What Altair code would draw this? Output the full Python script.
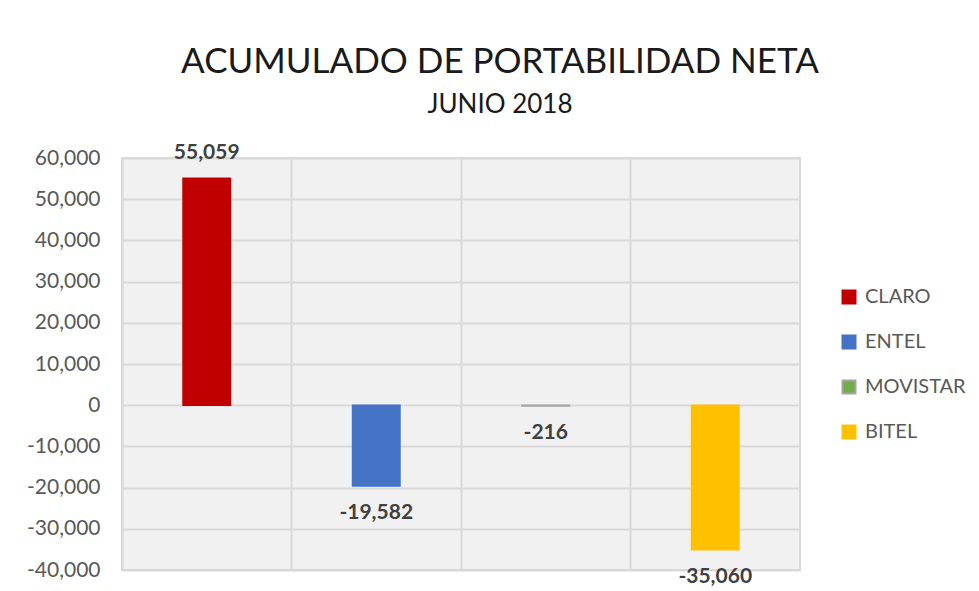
import altair as alt
import pandas as pd

operadores = ["CLARO", "ENTEL", "MOVISTAR", "BITEL"]
valores = [55059, -19582, -216, -35060]
colores = ["#c00000", "#4472c4", "#70ad47", "#ffc000"]
bordes = ["#c00000", "#4472c4", "#a5a5a5", "#ffc000"]
y_ticks = [-40000, -30000, -20000, -10000, 0, 10000, 20000, 30000, 40000, 50000, 60000]

df = pd.DataFrame({"operador": operadores, "valor": valores})

FONT = "Lato"

x = alt.X("operador:N", sort=operadores, title=None,
          scale=alt.Scale(paddingInner=0, paddingOuter=0),
          axis=alt.Axis(labels=False, ticks=False, domain=False, grid=True,
                        bandPosition=0, gridColor="#d9d9d9", gridWidth=2))
y = alt.Y("valor:Q", title=None,
          scale=alt.Scale(domain=[-40000, 60000], nice=False),
          axis=alt.Axis(values=y_ticks, labelExpr="replace(format(datum.value, ','), '\u2212', '-')",
                        domain=False, ticks=False,
                        gridColor="#d9d9d9", gridWidth=2, labelPadding=22,
                        labelFontSize=21, labelColor="#595959", labelFont=FONT))

base = alt.Chart(df).transform_calculate(
    etiqueta="replace(format(datum.valor, ','), '\u2212', '-')"
)

bars = base.mark_bar(width=alt.RelativeBandSize(0.28), strokeWidth=1.5).encode(
    x=x, y=y,
    color=alt.Color("operador:N", sort=operadores,
                    scale=alt.Scale(domain=operadores, range=colores), title=None),
    stroke=alt.Stroke("operador:N", sort=operadores,
                      scale=alt.Scale(domain=operadores, range=bordes), title=None),
)

lab_pos = base.transform_filter("datum.valor >= 0").mark_text(
    fontWeight="bold", fontSize=21, font=FONT, color="#404040", baseline="middle", dy=-25
).encode(x=x, y=y, text="etiqueta:N")

lab_neg = base.transform_filter("datum.valor < 0").mark_text(
    fontWeight="bold", fontSize=21, font=FONT, color="#404040", baseline="middle", dy=27
).encode(x=x, y=y, text="etiqueta:N")

chart = alt.layer(bars, lab_pos, lab_neg).properties(
    width=678, height=412,
    background="white",
    title=alt.TitleParams(
        text="ACUMULADO DE PORTABILIDAD NETA", subtitle="JUNIO 2018",
        anchor="middle", dx=39, offset=24, fontSize=35, font=FONT, fontWeight="normal",
        color="#1a1a1a", subtitleFontSize=26, subtitleFont=FONT, subtitleColor="#1a1a1a",
        subtitlePadding=12),
    autosize=alt.AutoSizeParams(type="none"),
    padding={"left": 122, "top": 158, "right": 179, "bottom": 21},
).configure_view(
    fill="#f1f1f1", stroke="#d9d9d9", strokeWidth=2
).configure_legend(
    orient="none", legendX=717, legendY=129, padding=0,
    symbolType="square", symbolSize=169, symbolStrokeWidth=2,
    labelFontSize=20, labelFont=FONT, labelColor="#595959", labelOffset=6,
    rowPadding=23
)

chart.save("out.html", embed_options={"renderer": "svg", "actions": False})
